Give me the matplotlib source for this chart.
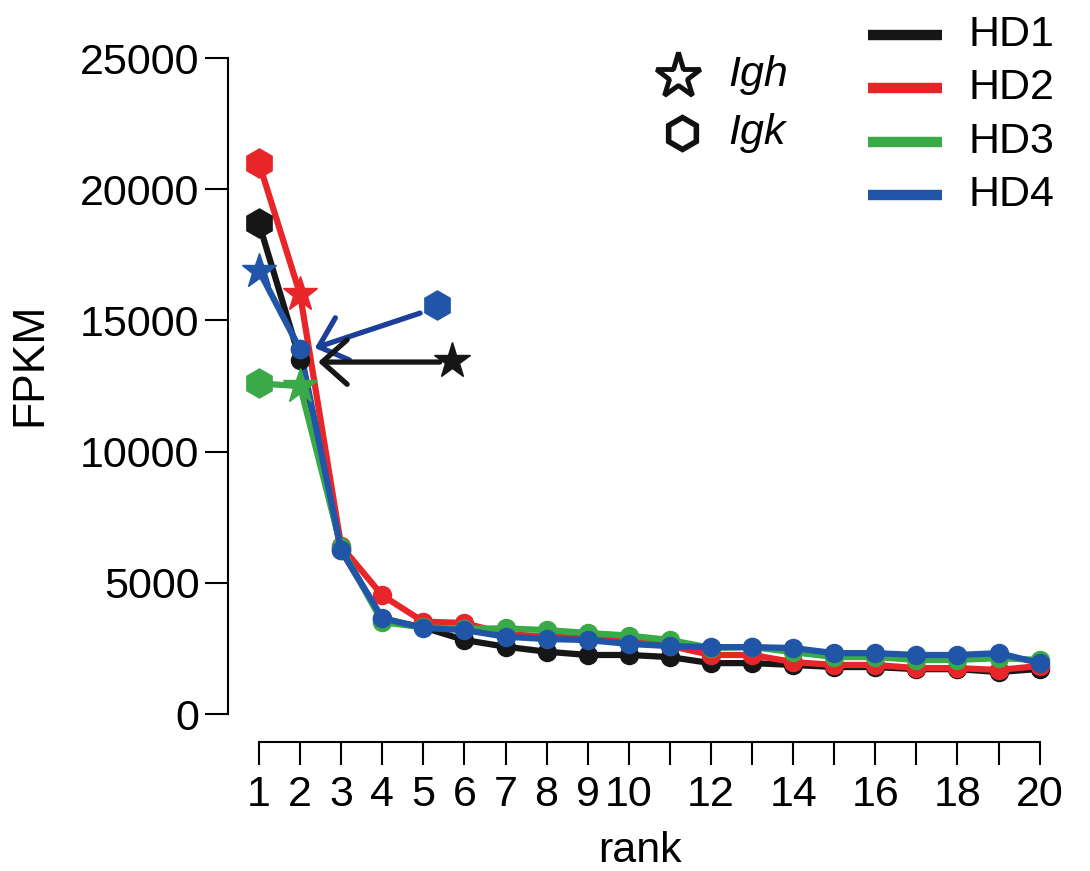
import matplotlib
matplotlib.use("Agg")
import matplotlib.pyplot as plt
from matplotlib.lines import Line2D

plt.rcParams['font.family'] = ['Liberation Sans', 'DejaVu Sans']

ranks = list(range(1, 21))
series_names = ["HD1", "HD2", "HD3", "HD4"]
series_colors = ["#161616", "#e8262a", "#3aaa48", "#2155a8"]

hd1 = [18700, 13500, 6250, 3620, 3300, 2820, 2565, 2375, 2250, 2250,
       2170, 1940, 1940, 1870, 1790, 1790, 1710, 1710, 1600, 1720]
hd2 = [21000, 16000, 6400, 4520, 3520, 3470, 3050, 2950, 2900, 2800,
       2600, 2250, 2250, 1980, 1870, 1870, 1750, 1750, 1680, 1830]
hd3 = [12600, 12500, 6350, 3500, 3300, 3250, 3265, 3200, 3090, 2990,
       2820, 2520, 2550, 2360, 2170, 2170, 2060, 2060, 2130, 2060]
hd4 = [16900, 13900, 6250, 3660, 3280, 3200, 2946, 2858, 2820, 2670,
       2590, 2550, 2550, 2515, 2320, 2320, 2250, 2250, 2320, 1940]
series_values = [hd1, hd2, hd3, hd4]

# marker for ranks 1 and 2 (Igh = star, Igk = hexagon); others circles
first_markers = [("h", "o"), ("h", "*"), ("h", "*"), ("*", "o")]

yticks = [0, 5000, 10000, 15000, 20000, 25000]
xticks = list(range(1, 21))
xticklabels = ["1", "2", "3", "4", "5", "6", "7", "8", "9", "10",
               "", "12", "", "14", "", "16", "", "18", "", "20"]

# annotation arrows (hidden points at rank 2)
blue_hex_pos = (5.33, 15590)
blue_arrow_tail = (4.92, 15280)
blue_arrow_tip = (2.36, 13950)
black_star_pos = (5.7, 13460)
black_arrow_tail = (5.4, 13415)
black_arrow_tip = (2.44, 13415)

W, H = 1090, 871
fig = plt.figure(figsize=(W / 100, H / 100), dpi=100)
ax_left, ax_right, ax_bottom, ax_top = 228, 1052, 742, 45
ax = fig.add_axes([ax_left / W, (H - ax_bottom) / H,
                   (ax_right - ax_left) / W, (ax_bottom - ax_top) / H])
ax.set_xlim(0.246, 20.3)
ax.set_ylim(-1067, 25500)

msize = {"o": 13, "h": 21, "*": 26}
for vals, col, fm in zip(series_values, series_colors, first_markers):
    ax.plot(ranks, vals, color=col, lw=4.5, marker="o", ms=msize["o"],
            markevery=list(range(2, 20)), zorder=2, solid_capstyle="round")
    for i in range(2):
        ax.plot([ranks[i]], [vals[i]], marker=fm[i], ms=msize[fm[i]],
                color=col, mec=col, lw=0, zorder=3)

# replot HD4 on top at rank 2
ax.plot([ranks[1]], [hd4[1]], marker="o", ms=msize["o"], color=series_colors[3], zorder=4)

# annotation markers and arrows
ax.plot([blue_hex_pos[0]], [blue_hex_pos[1]], marker="h", ms=21, color=series_colors[3], lw=0, zorder=3)
ax.plot([black_star_pos[0]], [black_star_pos[1]], marker="*", ms=27, color=series_colors[0], lw=0, zorder=3)
ax.annotate("", xy=blue_arrow_tip, xytext=blue_arrow_tail,
            arrowprops=dict(arrowstyle="->,head_length=0.9,head_width=0.8",
                            color="#1c3f9a", lw=3.8, mutation_scale=20,
                            shrinkA=0, shrinkB=0))
ax.annotate("", xy=black_arrow_tip, xytext=black_arrow_tail,
            arrowprops=dict(arrowstyle="->,head_length=0.9,head_width=0.8",
                            color=series_colors[0], lw=3.8, mutation_scale=20,
                            shrinkA=0, shrinkB=0))

for s in ["top", "right"]:
    ax.spines[s].set_visible(False)
ax.spines["left"].set_bounds(0, 25000)
ax.spines["bottom"].set_bounds(1, 20)
for s in ["left", "bottom"]:
    ax.spines[s].set_linewidth(1.5)

ax.set_yticks(yticks)
ax.set_yticklabels([str(v) for v in yticks])
ax.set_xticks(xticks)
ax.set_xticklabels(xticklabels)
ax.tick_params(axis="both", direction="out", length=16.5, width=1.5,
               labelsize=31, pad=4)
ax.tick_params(axis="x", pad=7)

ax.set_ylabel("FPKM", fontsize=32)
ax.yaxis.set_label_coords(-0.216, 0.542)
ax.set_xlabel("rank", fontsize=31, labelpad=12)

# legends (manual)
def fx(px):
    return px / W

def fy(py):
    return 1 - py / H

leg_y = [35, 88, 142, 195]
for name, col, y in zip(series_names, series_colors, leg_y):
    fig.add_artist(Line2D([fx(868), fx(942)], [fy(y), fy(y)], color=col, lw=7.5,
                          solid_capstyle="butt"))
    fig.text(fx(968), fy(y), name, fontsize=31, va="center", ha="left")

fig.add_artist(Line2D([fx(678)], [fy(76)], marker="*", ms=34, mfc="white",
                      mec="#111111", mew=3.5, lw=0))
fig.text(fx(728), fy(75), "Igh", fontsize=31, style="italic", va="center", ha="left")
fig.add_artist(Line2D([fx(682)], [fy(133)], marker="h", ms=23, mfc="white",
                      mec="#111111", mew=4, lw=0))
fig.text(fx(728), fy(133), "Igk", fontsize=31, style="italic", va="center", ha="left")

fig.savefig("out.png", dpi=100)
